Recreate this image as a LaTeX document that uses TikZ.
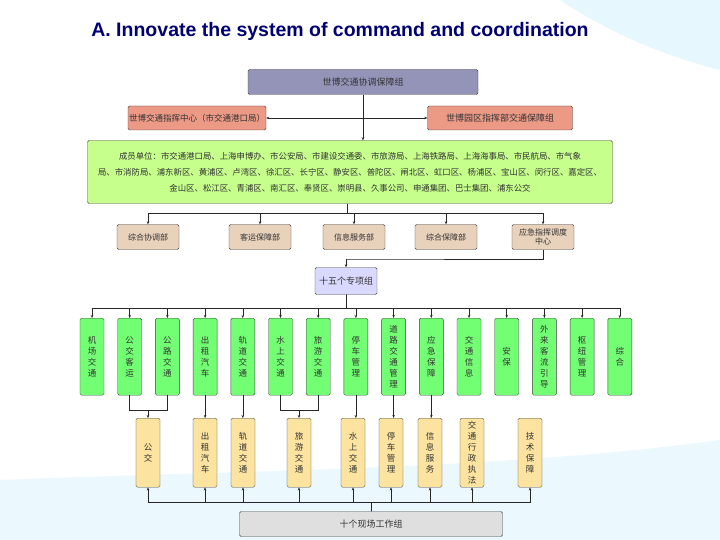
\documentclass[tikz,border=0pt]{standalone}
\usepackage{fontspec}
\setmainfont{Liberation Sans}
\newfontfamily\cjk{Noto Sans CJK SC}
\usetikzlibrary{arrows.meta,calc}
\begin{document}
\begin{tikzpicture}[x=1pt,y=-1pt,
 bx/.style={draw=black!75,rounded corners=1.5pt,font=\cjk\fontsize{9}{10}\selectfont,inner sep=1pt,text=black!80},
 vbox/.style={bx,minimum width=24pt,minimum height=77pt,anchor=north,align=center,font=\cjk\fontsize{8.5}{11}\selectfont},
 ybox/.style={vbox,minimum height=69pt,fill=yellow!45!orange!35!white},
 gbox/.style={vbox,fill=green!55!white},
 tan/.style={bx,fill=brown!35!white,minimum width=62pt,minimum height=25pt,align=center,font=\cjk\fontsize{8}{9.5}\selectfont},
 ar/.style={-{Stealth[length=3pt,width=2.5pt]},black!85,line width=0.5pt},
 ln/.style={black!85,line width=0.5pt}]
\useasboundingbox (0,0) rectangle (720,540);
\fill[white] (0,0) rectangle (720,540);
\fill[cyan!8] (0,480) .. controls (250,470) and (500,470) .. (720,440) -- (720,540) -- (0,540) -- cycle;
\fill[cyan!10] (560,0) .. controls (620,40) and (680,60) .. (720,70) -- (720,0) -- cycle;
\node[font=\bfseries\fontsize{19.5}{21}\selectfont,text=blue!45!black] (title) at (340,31) {A. Innovate the system of command and coordination};
\node[bx,fill=blue!20!gray!70!white,minimum width=230pt,minimum height=25pt] (top) at (363,82) {世博交通协调保障组};
\node[bx,fill=red!45!brown!55!white,minimum width=129pt,minimum height=24pt,font=\cjk\fontsize{8.5}{10}\selectfont] (rl) at (197,118) {世博交通指挥中心（市交通港口局）};
\node[bx,fill=red!45!brown!55!white,minimum width=145pt,minimum height=24pt] (rr) at (500,118) {世博园区指挥部交通保障组};
\node[bx,fill=green!50!yellow!45!white,minimum width=525pt,minimum height=63pt,align=center,font=\cjk\fontsize{8.4}{16}\selectfont] (mem) at (350,172) {成员单位：市交通港口局、上海申博办、市公安局、市建设交通委、市旅游局、上海铁路局、上海海事局、市民航局、市气象\\局、市消防局、浦东新区、黄浦区、卢湾区、徐汇区、长宁区、静安区、普陀区、闸北区、虹口区、杨浦区、宝山区、闵行区、嘉定区、\\金山区、松江区、青浦区、南汇区、奉贤区、崇明县、久事公司、申通集团、巴士集团、浦东公交};
\coordinate (j) at (347,118);
\draw[ar] (top) -- (mem.north -| top);
\draw[ar] (j) -- (rl.east);
\draw[ar] (j) -- (rr.west);
\foreach \n/\x/\t in {t1/148/综合协调部,t2/260/客运保障部,t3/354/信息服务部,t4/446/综合保障部,t5/543/应急指挥调度\\中心}{
 \node[tan] (\n) at (\x,237) {\t};
 \draw[ar] (mem.south -| 347,0) |- (\x,213) -- (\n.north);
}
\node[bx,fill=blue!15,minimum width=62pt,minimum height=27pt] (blue) at (346,281) {十五个专项组};
\draw[ar] (t5.south) |- (347,259) -| (blue.north);
\foreach \i/\t in {1/机\\场\\交\\通,2/公\\交\\客\\运,3/公\\路\\交\\通,4/出\\租\\汽\\车,5/轨\\道\\交\\通,6/水\\上\\交\\通,7/旅\\游\\交\\通,8/停\\车\\管\\理,9/道\\路\\交\\通\\管\\理,10/应\\急\\保\\障,11/交\\通\\信\\息,12/安\\保,13/外\\来\\客\\流\\引\\导,14/枢\\纽\\管\\理,15/综\\合}{
 \pgfmathsetmacro\xx{92+37.7*(\i-1)}
 \node[gbox] (g\i) at (\xx,318) {\t};
 \draw[ar] (blue.south) |- (\xx,308) -- (g\i.north);
}
\foreach \n/\x/\t in {y1/148/公\\交,y2/205/出\\租\\汽\\车,y3/243/轨\\道\\交\\通,y4/299/旅\\游\\交\\通,y5/353/水\\上\\交\\通,y6/391/停\\车\\管\\理,y7/430/信\\息\\服\\务,y8/472/交\\通\\行\\政\\执\\法,y9/530/技\\术\\保\\障}{
 \node[ybox] (\n) at (\x,418) {\t};
}
\draw[ln] (g2.south) |- (148,410); \draw[ln] (g3.south) |- (148,410); \draw[ar] (148,410) -- (y1.north);
\draw[ar] (g4.south) -- (y2.north -| g4.south);
\draw[ar] (g5.south) -- (y3.north -| g5.south);
\draw[ln] (g6.south) |- (299,410); \draw[ln] (g7.south) |- (299,410); \draw[ar] (299,410) -- (y4.north);
\draw[ar] (g8.south) -- (y5.north -| g8.south);
\draw[ar] (g9.south) -- (y6.north -| g9.south);
\draw[ar] (g10.south) -- (y7.north -| g10.south);
\node[bx,fill=gray!25,minimum width=263pt,minimum height=25pt] (bot) at (371,524) {十个现场工作组};
\foreach \n in {y1,y2,y3,y4,y5,y6,y7,y8,y9}{
 \draw[ar] (bot.north) |- ($(\n.south)+(0,15)$) -- (\n.south);
}
\end{tikzpicture}
\end{document}
